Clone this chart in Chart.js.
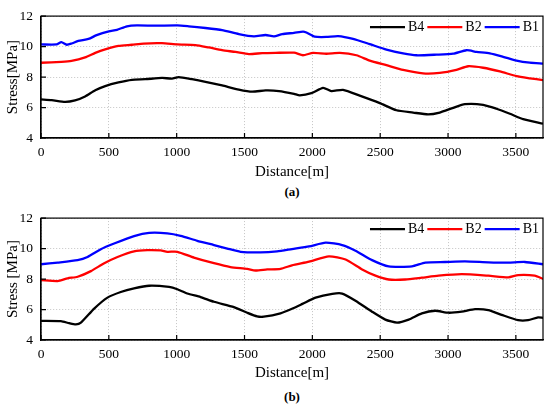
<!DOCTYPE html>
<html>
<head>
<meta charset="utf-8">
<script src="https://cdn.jsdelivr.net/npm/chart.js@4.4.1/dist/chart.umd.min.js"></script>
<style>
  html, body { margin:0; padding:0; background:#fff; }
  #wrap { position:relative; width:550px; height:408px; overflow:hidden; }
  .cv { position:absolute; left:0; width:550px; }
  .cap { position:absolute; left:0; width:584px; text-align:center; font-family:"Liberation Serif", serif; font-weight:bold; font-size:13px; color:#000; }
</style>
</head>
<body>
<div id="wrap">
  <div class="cv" style="top:0;height:182px;"><canvas id="ca"></canvas></div>
  <div class="cap" style="top:182px;height:20px;line-height:20px;">(a)</div>
  <div class="cv" style="top:202px;height:181px;"><canvas id="cb"></canvas></div>
  <div class="cap" style="top:383px;height:25px;line-height:28px;">(b)</div>
</div>
<script>
// ---- Data (a) ----
const aB4x = [0,79,177,251,325,400,473,571,670,768,892,965,1015,1113,1212,1335,1458,1557,1655,1754,1865,1907,1993,2079,2140,2226,2349,2497,2620,2743,2853,2939,3038,3124,3259,3357,3456,3554,3700];
const aB4y = [6.53,6.49,6.37,6.47,6.73,7.14,7.41,7.65,7.82,7.86,7.94,7.9,8.0,7.86,7.69,7.45,7.18,7.04,7.12,7.08,6.9,6.8,6.94,7.29,7.08,7.16,6.78,6.29,5.82,5.67,5.55,5.67,5.98,6.22,6.18,5.92,5.59,5.24,4.94];
const aB2x = [0,150,225,325,400,473,571,670,756,892,1005,1138,1236,1335,1433,1532,1631,1729,1865,1931,2005,2103,2202,2325,2423,2546,2669,2816,2939,3062,3148,3259,3382,3505,3603,3700];
const aB2y = [8.94,9.0,9.06,9.29,9.59,9.82,10.04,10.12,10.2,10.22,10.14,10.1,9.94,9.76,9.65,9.51,9.57,9.59,9.6,9.43,9.59,9.53,9.59,9.43,9.08,8.78,8.47,8.24,8.27,8.47,8.71,8.61,8.37,8.06,7.92,7.8];
const aB1x = [0,115,150,190,225,275,350,410,500,560,633,707,842,1005,1089,1212,1335,1458,1569,1655,1717,1778,1865,1931,1956,2017,2103,2189,2300,2423,2546,2669,2768,2915,3038,3136,3210,3308,3406,3505,3603,3700];
const aB1y = [10.14,10.14,10.29,10.12,10.2,10.37,10.5,10.75,11.0,11.1,11.33,11.39,11.37,11.39,11.33,11.22,11.08,10.82,10.67,10.76,10.67,10.82,10.9,10.98,10.92,10.65,10.63,10.69,10.51,10.16,9.8,9.55,9.43,9.47,9.53,9.76,9.65,9.55,9.33,9.08,8.94,8.88];

// ---- Data (b) ----
const bB4x = [0,147,208,257,294,392,490,588,686,797,944,1005,1078,1176,1275,1422,1520,1593,1642,1765,1850,1927,2024,2147,2220,2318,2440,2538,2624,2710,2807,2905,3003,3101,3199,3297,3395,3517,3590,3664,3700];
const bB4y = [5.26,5.24,5.1,5.02,5.14,6.06,6.78,7.15,7.39,7.56,7.48,7.33,7.05,6.82,6.51,6.16,5.79,5.55,5.53,5.75,6.05,6.37,6.78,7.03,7.05,6.58,5.86,5.34,5.14,5.34,5.75,5.92,5.79,5.86,6.02,5.96,5.65,5.3,5.3,5.49,5.45];
const bB2x = [0,123,196,270,368,466,564,686,784,882,931,1005,1127,1275,1397,1520,1581,1667,1765,1850,1976,2122,2245,2367,2465,2563,2685,2807,2930,3101,3297,3444,3517,3639,3700];
const bB2y = [7.93,7.87,8.05,8.15,8.52,9.04,9.45,9.82,9.9,9.88,9.79,9.79,9.41,9.04,8.79,8.67,8.56,8.63,8.67,8.9,9.14,9.49,9.28,8.63,8.22,7.97,7.97,8.09,8.22,8.32,8.22,8.11,8.26,8.22,8.01];
const bB1x = [0,123,270,343,441,539,686,797,931,1029,1152,1275,1373,1471,1618,1740,1850,1976,2098,2220,2318,2440,2563,2734,2832,2979,3125,3297,3444,3566,3700];
const bB1y = [8.97,9.08,9.24,9.45,9.96,10.33,10.82,11.03,11.0,10.84,10.51,10.23,10.0,9.79,9.75,9.82,9.97,10.14,10.39,10.23,9.86,9.24,8.83,8.83,9.08,9.12,9.16,9.1,9.08,9.12,8.97];

const seriesNames = ['B4','B2','B1'];
const seriesColors = ['#000000','#ff0000','#0000ff'];
const xTicks = [0,500,1000,1500,2000,2500,3000,3500];
const yTicks = [4,6,8,10,12];
const xMin = 0, xMax = 3700;
const yMin = 4, yMax = 12;

const FONT = '"Liberation Serif", "Times New Roman", serif';

function pts(xs, ys) { return xs.map((x, i) => ({x: x, y: ys[i]})); }

const framePlugin = {
  id: 'frame',
  afterDraw(chart) {
    const {ctx, chartArea: a, scales} = chart;
    ctx.save();
    ctx.strokeStyle = '#000';
    ctx.lineWidth = 1.2;
    ctx.setLineDash([]);
    ctx.beginPath();
    scales.x.ticks.forEach(t => {
      const px = scales.x.getPixelForValue(t.value);
      ctx.moveTo(px, a.bottom); ctx.lineTo(px, a.bottom - 5);
    });
    scales.y.ticks.forEach(t => {
      const py = scales.y.getPixelForValue(t.value);
      ctx.moveTo(a.left, py); ctx.lineTo(a.left + 5, py);
    });
    ctx.stroke();
    ctx.strokeRect(a.left, a.top, a.right - a.left, a.bottom - a.top);

    // legend inside the plot, top right
    const ds = chart.data.datasets;
    ctx.font = '14px ' + FONT;
    ctx.textBaseline = 'middle';
    ctx.textAlign = 'left';
    let xr = a.right - 4;
    const yc = a.top + 11;
    for (let i = ds.length - 1; i >= 0; i--) {
      const w = ctx.measureText(ds[i].label).width;
      const tx = xr - w;
      ctx.fillStyle = '#000';
      ctx.fillText(ds[i].label, tx, yc + 0.5);
      const lx1 = tx - 3, lx0 = lx1 - 35;
      ctx.strokeStyle = ds[i].borderColor;
      ctx.lineWidth = 2.4;
      ctx.beginPath(); ctx.moveTo(lx0, yc); ctx.lineTo(lx1, yc); ctx.stroke();
      xr = lx0 - 3;
    }
    ctx.restore();
  }
};

function makeChart(id, data, yTitle, canvasH) {
  const datasets = data.map((d, i) => ({
    label: seriesNames[i],
    data: pts(d[0], d[1]),
    borderColor: seriesColors[i],
    backgroundColor: seriesColors[i],
    borderWidth: 2.3,
    pointRadius: 0,
    tension: 0.2,
    fill: false
  }));
  return new Chart(document.getElementById(id), {
    type: 'line',
    data: { datasets },
    plugins: [framePlugin],
    options: {
      responsive: true,
      maintainAspectRatio: false,
      animation: false,
      layout: { padding: { top: 10, right: 7, left: 0, bottom: 0 } },
      plugins: {
        legend: { display: false },
        tooltip: { enabled: false }
      },
      scales: {
        x: {
          type: 'linear',
          min: xMin, max: xMax,
          afterBuildTicks(s) { s.ticks = xTicks.map(v => ({value: v})); },
          afterFit(s) { s.height = canvasH - 138; },
          ticks: { color: '#000', padding: 6, maxRotation: 0, autoSkip: false,
                   callback: v => String(v),
                   font: { family: FONT, size: 13.5 } },
          grid: { color: '#c4c4c4', drawTicks: false, lineWidth: 1, borderDash: [1, 2] },
          border: { color: '#000', width: 1.2, dash: [1, 2] },
          title: { display: true, text: 'Distance[m]', color: '#000', padding: { top: 0, bottom: 1 },
                   font: { family: FONT, size: 15 } }
        },
        y: {
          min: yMin, max: yMax,
          afterBuildTicks(s) { s.ticks = yTicks.map(v => ({value: v})); },
          afterFit(s) { s.width = 41; },
          ticks: { color: '#000', padding: 8, autoSkip: false,
                   callback: v => String(v),
                   font: { family: FONT, size: 13.5 } },
          grid: { color: '#c4c4c4', drawTicks: false, lineWidth: 1, borderDash: [1, 2] },
          border: { color: '#000', width: 1.2, dash: [1, 2] },
          title: { display: true, text: yTitle, color: '#000', padding: { top: 4, bottom: 0 },
                   font: { family: FONT, size: 15 } }
        }
      }
    }
  });
}

makeChart('ca', [[aB4x, aB4y], [aB2x, aB2y], [aB1x, aB1y]], 'Stress[MPa]', 182);
makeChart('cb', [[bB4x, bB4y], [bB2x, bB2y], [bB1x, bB1y]], 'Stress [MPa]', 181);
</script>
</body>
</html>
